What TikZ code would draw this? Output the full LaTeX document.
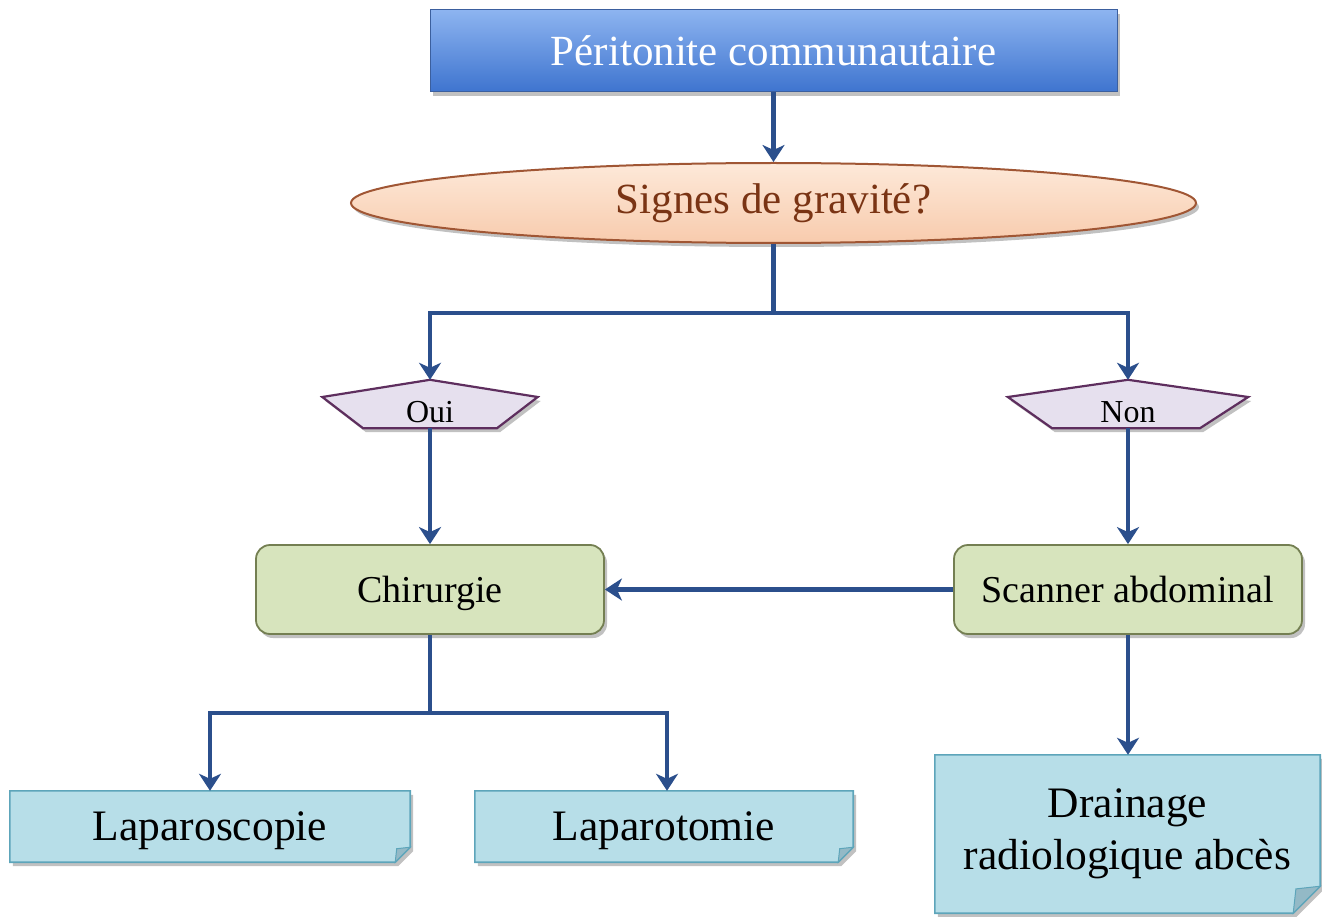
\documentclass[tikz,border=0pt]{standalone}
\usepackage{fontspec}
\setmainfont{Liberation Serif}
\usetikzlibrary{arrows.meta,shapes.geometric,shadows,calc}
\definecolor{conn}{HTML}{2B4F8C}
\definecolor{topA}{HTML}{8DB4F0}
\definecolor{topB}{HTML}{3E74CF}
\definecolor{topline}{HTML}{3B5F9E}
\definecolor{ellA}{HTML}{FDE9D9}
\definecolor{ellB}{HTML}{F8CBAD}
\definecolor{elline}{HTML}{A05634}
\definecolor{elltext}{HTML}{7A3414}
\definecolor{penfill}{HTML}{E6E0EE}
\definecolor{penline}{HTML}{5E2E5E}
\definecolor{grfill}{HTML}{D7E4BD}
\definecolor{grline}{HTML}{747F52}
\definecolor{bufill}{HTML}{B7DEE8}
\definecolor{buline}{HTML}{5DA5BA}
\definecolor{bufold}{HTML}{93B9C6}
\pgfdeclarelayer{background}
\pgfsetlayers{background,main}
\tikzset{
  shad/.style={drop shadow={shadow xshift=3pt,shadow yshift=-4pt,opacity=0.35,fill=black!70}},
  link/.style={draw=conn,line width=4.6pt},
  arr/.style={link,-{Stealth[width=22pt,length=17pt,inset=5pt]}},
  topbox/.style={rectangle,inner sep=0pt,minimum width=687pt,minimum height=82pt,
    top color=topA,bottom color=topB,draw=topline,line width=1pt,shad,
    text=white,font=\fontsize{43}{48}\selectfont},
  ovalbox/.style={ellipse,inner sep=0pt,minimum width=845pt,minimum height=80pt,
    top color=ellA,bottom color=ellB,draw=elline,line width=2pt,shad,
    text=elltext,font=\fontsize{43}{48}\selectfont},
  answer/.style={rectangle,inner sep=0pt,minimum height=48pt},
  answertext/.style={font=\fontsize{32}{36}\selectfont},
  pentagonfill/.style={fill=penfill,draw=penline,line width=2.2pt,line join=miter,shad},
  stepbox/.style={rectangle,rounded corners=14pt,inner sep=0pt,minimum width=348pt,
    minimum height=89pt,fill=grfill,draw=grline,line width=1.8pt,shad,text depth=0pt,
    font=\fontsize{38}{44}\selectfont},
  notebox/.style={rectangle,inner sep=0pt,font=\fontsize{43.5}{52}\selectfont,align=center},
  noteshape/.style={fill=bufill,draw=buline,line width=1.6pt,shad},
  notefold/.style={fill=bufold,draw=buline,line width=1pt}
}
\begin{document}
\begin{tikzpicture}[x=1pt,y=-1pt]
\useasboundingbox (0,0) rectangle (1322,917);

% header and question
\node[topbox] (top) at (773.5,51) {Péritonite communautaire};
\node[ovalbox] (sig) at (773.5,203) {Signes de gravité?};

% answers (irregular pentagons)
\node[answer,minimum width=215pt] (oui) at (430,404) {};
\node[answer,minimum width=240pt] (non) at (1128,404) {};
\begin{pgfonlayer}{background}
  \path[pentagonfill] (oui.north) -- ($(oui.east)+(0,-7)$) -- ($(oui.south)+(67,0)$)
    -- ($(oui.south)+(-67,0)$) -- ($(oui.west)+(0,-7)$) -- cycle;
  \path[pentagonfill] (non.north) -- ($(non.east)+(0,-7)$) -- ($(non.south)+(72,0)$)
    -- ($(non.south)+(-76,0)$) -- ($(non.west)+(0,-7)$) -- cycle;
\end{pgfonlayer}
\node[answertext] (ouitext) at ($(oui.center)+(0,8)$) {Oui};
\node[answertext] (nontext) at ($(non.center)+(0,8)$) {Non};

% actions
\node[stepbox] (chir) at (430,589.5) {Chirurgie};
\node[stepbox] (scan) at (1128,589.5) {Scanner abdominal};

% outcomes with folded corners
\node[notebox,text depth=0pt,minimum width=400pt,minimum height=71pt] (lap) at (210,826.5) {Laparoscopie};
\node[notebox,text depth=0pt,minimum width=378pt,minimum height=71pt] (lapt) at (664,826.5) {Laparotomie};
\node[notebox,minimum width=385pt,minimum height=158pt] (drain) at (1127.5,834)
  {Drainage\\radiologique abcès};
\begin{pgfonlayer}{background}
  \foreach \n/\f in {lap/15,lapt/15,drain/27}{
    \path[noteshape] (\n.north west) -- (\n.north east) -- ($(\n.south east)+(0,-\f)$)
      -- ($(\n.south east)+(-\f,0)$) -- (\n.south west) -- cycle;
    \path[notefold] ($(\n.south east)+(0,-\f)$) -- ($(\n.south east)+(-\f,0)$)
      -- ($(\n.south east)+(-0.9*\f,-0.9*\f)$) -- cycle;
  }
\end{pgfonlayer}

% connectors
\draw[arr] (top.south) -- (sig.north);
\draw[link] (sig.south) -- ++(0,69) coordinate (split);
\draw[arr] (split) -| (oui.north);
\draw[arr] (split) -| (non.north);
\draw[arr] (oui.south) -- (chir.north);
\draw[arr] (non.south) -- (scan.north);
\draw[arr] (scan.west) -- (chir.east);
\draw[link] (chir.south) -- ++(0,78) coordinate (branch);
\draw[arr] (branch) -| (lap.north);
\draw[arr] (branch) -| ([xshift=3pt]lapt.north);
\draw[arr] (scan.south) -- (scan.south |- drain.north);
\end{tikzpicture}
\end{document}
